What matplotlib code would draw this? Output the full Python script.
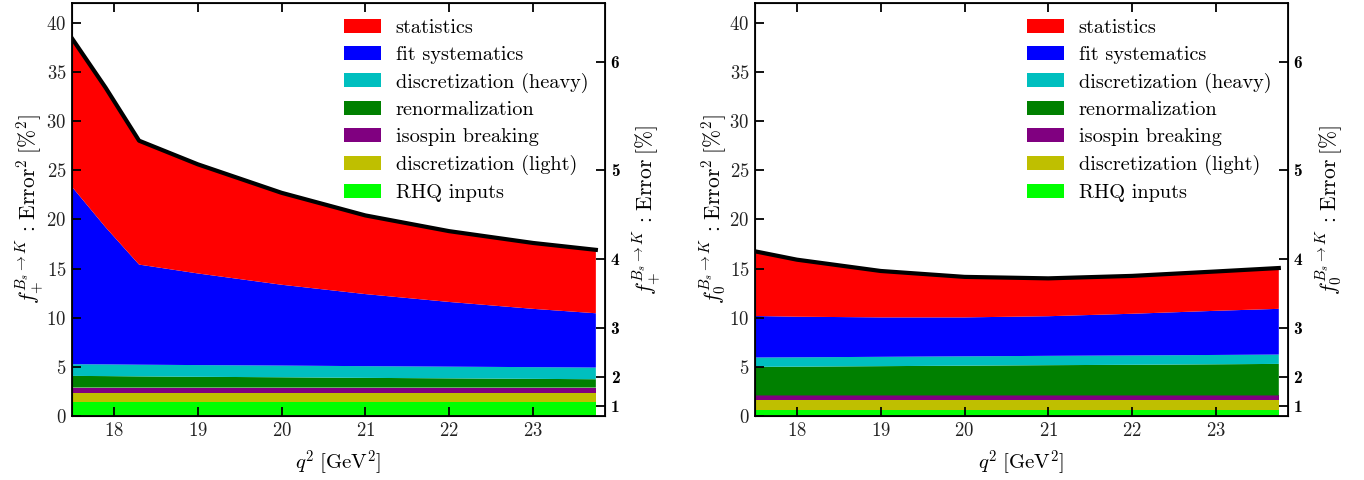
import numpy as np
import matplotlib
matplotlib.use("Agg")
import matplotlib.pyplot as plt

plt.rcParams['font.family'] = 'serif'
plt.rcParams['font.serif'] = ['cmr10']
plt.rcParams['mathtext.fontset'] = 'cm'
plt.rcParams['axes.formatter.use_mathtext'] = True
plt.rcParams['axes.unicode_minus'] = False

# error budget contributions, error^2 in %^2
q2_plus = [17.5, 17.9, 18.3, 19.0, 20.0, 21.0, 22.0, 23.0, 23.75]
plus_rhq = [1.43] * 9
plus_light = [0.95] * 9
plus_isospin = [0.51] * 9
plus_renorm = [1.19, 1.17, 1.14, 1.10, 1.05, 0.99, 0.94, 0.89, 0.85]
plus_heavy = [1.19] * 9
plus_fit = [18.03, 13.95, 10.18, 9.32, 8.22, 7.33, 6.58, 5.93, 5.52]
plus_stat = [15.1, 14.2, 12.6, 11.1, 9.35, 8.0, 7.2, 6.7, 6.45]

q2_zero = [17.5, 18.0, 19.0, 20.0, 21.0, 22.0, 23.0, 23.75]
zero_rhq = [0.64] * 8
zero_light = [0.95] * 8
zero_isospin = [0.50] * 8
zero_renorm = [2.91, 2.93, 2.98, 3.03, 3.08, 3.12, 3.17, 3.21]
zero_heavy = [0.95] * 8
zero_fit = [4.22, 4.13, 4.01, 3.96, 4.03, 4.24, 4.49, 4.65]
zero_stat = [6.58, 5.8, 4.72, 4.12, 3.85, 3.85, 4.0, 4.15]

labels = ['RHQ inputs', 'discretization (light)', 'isospin breaking',
          'renormalization', 'discretization (heavy)', 'fit systematics',
          'statistics']
colors = ['#00ff00', '#bfbf00', '#800080', '#008000', '#00bfbf',
          '#0000ff', '#ff0000']

err_ticks = [1, 2, 3, 4, 5, 6]


def panel(ax, q2, parts, name):
    ax.stackplot(q2, *parts, colors=colors, labels=labels, linewidth=0)
    total = np.sum(parts, axis=0)
    ax.plot(q2, total, color='k', lw=3)
    ax.set_xlim(17.5, 23.86)
    ax.set_ylim(0, 42)
    ax.set_xticks([18, 19, 20, 21, 22, 23])
    ax.set_yticks(range(0, 41, 5))
    ax.tick_params(direction='in', length=6.5, width=1.3, top=True,
                   labelsize=13.5, labelcolor='#222222', pad=4)
    for s in ax.spines.values():
        s.set_linewidth(1.3)
    ax.set_xlabel(r'$q^2\;[\mathrm{GeV}^2]$', fontsize=15, labelpad=6)
    ax.set_ylabel(r'$f_{%s}^{B_s\to K}\,:\,\mathrm{Error}^2\;[\%%^2]$' % name,
                  fontsize=15.5, labelpad=0)
    h, l = ax.get_legend_handles_labels()
    ax.legend(h[::-1], l[::-1], loc='upper left', bbox_to_anchor=(0.51, 0.962),
              frameon=False, fontsize=14.6, handlelength=1.82, handleheight=0.69,
              labelspacing=0.43, handletextpad=0.74, borderpad=0, borderaxespad=0)

    ax2 = ax.twinx()
    ax2.set_ylim(0, 42)
    ax2.set_yticks([v ** 2 for v in err_ticks])
    ax2.set_yticklabels([str(v) for v in err_ticks], fontfamily='cmb10',
                        fontsize=12.5)
    ax2.tick_params(direction='in', length=6.5, width=1.3, pad=4)
    ax2.set_ylabel(r'$f_{%s}^{B_s\to K}\,:\,\mathrm{Error}\;[\%%]$' % name,
                   fontsize=15.5, labelpad=8)


fig = plt.figure(figsize=(13.64, 4.8), dpi=100)
ax1 = fig.add_axes([0.0528, 0.1333, 0.3908, 0.8604])
ax2 = fig.add_axes([0.5535, 0.1333, 0.3908, 0.8604])

panel(ax1, q2_plus, [plus_rhq, plus_light, plus_isospin, plus_renorm,
                     plus_heavy, plus_fit, plus_stat], '+')
panel(ax2, q2_zero, [zero_rhq, zero_light, zero_isospin, zero_renorm,
                     zero_heavy, zero_fit, zero_stat], '0')

fig.savefig('out.png', dpi=100)
